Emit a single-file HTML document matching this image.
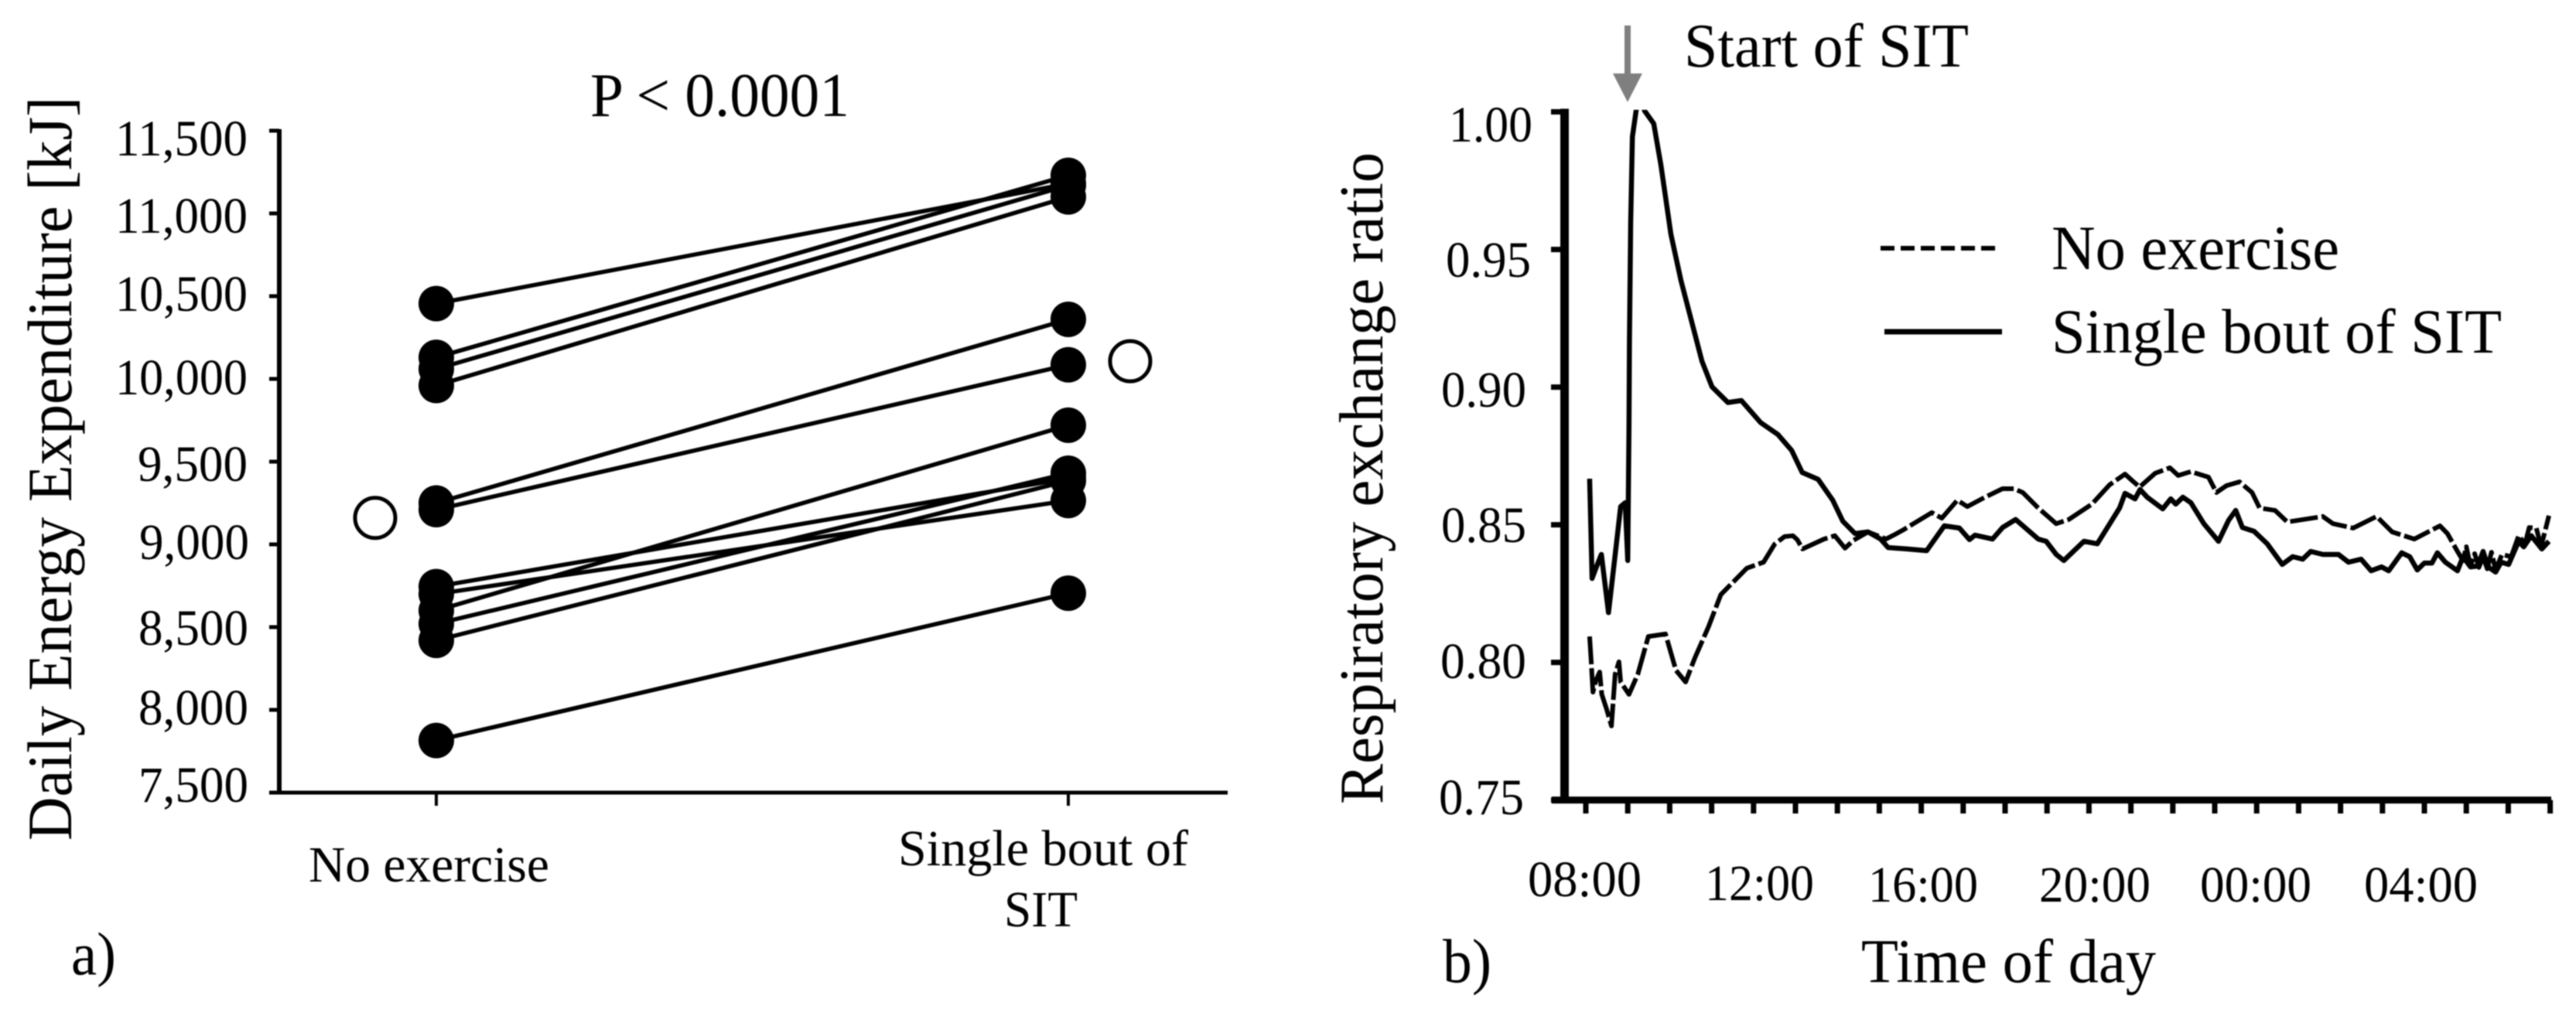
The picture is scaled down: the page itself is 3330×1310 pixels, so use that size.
<!DOCTYPE html>
<html lang="en">
<head>
<meta charset="utf-8">
<title>Daily energy expenditure and respiratory exchange ratio</title>
<style>
html,body{margin:0;padding:0;background:#fff;}
svg{display:block;filter:blur(0.7px);}
text{font-family:"Liberation Serif","Times New Roman",serif;fill:#000;}
</style>
</head>
<body>
<svg id="figure" xmlns="http://www.w3.org/2000/svg" width="3330" height="1310" viewBox="0 0 3330 1310">
<defs>
<clipPath id="rer-clip"><rect x="2030" y="142" width="1300" height="890"/></clipPath>
</defs>
<rect x="0" y="0" width="3330" height="1310" fill="#fff"/>

<g id="panel-a">
<text x="763" y="150" font-size="80" textLength="335" lengthAdjust="spacingAndGlyphs">P &lt; 0.0001</text>
<text transform="translate(92,1087) rotate(-90)" font-size="82" textLength="962" lengthAdjust="spacingAndGlyphs">Daily Energy Expenditure [kJ]</text>
<g font-size="66">
<text x="149" y="201" textLength="171" lengthAdjust="spacingAndGlyphs">11,500</text>
<text x="149" y="301" textLength="171" lengthAdjust="spacingAndGlyphs">11,000</text>
<text x="149" y="402" textLength="171" lengthAdjust="spacingAndGlyphs">10,500</text>
<text x="149" y="510" textLength="171" lengthAdjust="spacingAndGlyphs">10,000</text>
<text x="178" y="622" textLength="142" lengthAdjust="spacingAndGlyphs">9,500</text>
<text x="180" y="723" textLength="142" lengthAdjust="spacingAndGlyphs">9,000</text>
<text x="179" y="834" textLength="142" lengthAdjust="spacingAndGlyphs">8,500</text>
<text x="179" y="937" textLength="142" lengthAdjust="spacingAndGlyphs">8,000</text>
<text x="179" y="1037" textLength="142" lengthAdjust="spacingAndGlyphs">7,500</text>
</g>
<text x="399" y="1140" font-size="66" textLength="311" lengthAdjust="spacingAndGlyphs">No exercise</text>
<text x="1161" y="1119" font-size="66" textLength="375" lengthAdjust="spacingAndGlyphs">Single bout of</text>
<text x="1298" y="1198" font-size="66" textLength="95" lengthAdjust="spacingAndGlyphs">SIT</text>
<text x="92" y="1260" font-size="78" textLength="58" lengthAdjust="spacingAndGlyphs">a)</text>
</g>

<g id="panel-b">
<text transform="translate(1787,1040) rotate(-90)" font-size="80" textLength="843" lengthAdjust="spacingAndGlyphs">Respiratory exchange ratio</text>
<g font-size="66">
<text x="1873" y="183" textLength="108" lengthAdjust="spacingAndGlyphs">1.00</text>
<text x="1869" y="358" textLength="110" lengthAdjust="spacingAndGlyphs">0.95</text>
<text x="1863" y="526" textLength="110" lengthAdjust="spacingAndGlyphs">0.90</text>
<text x="1863" y="701" textLength="110" lengthAdjust="spacingAndGlyphs">0.85</text>
<text x="1862" y="877" textLength="111" lengthAdjust="spacingAndGlyphs">0.80</text>
<text x="1860" y="1053" textLength="110" lengthAdjust="spacingAndGlyphs">0.75</text>
</g>
<g font-size="66">
<text x="1975" y="1159" textLength="147" lengthAdjust="spacingAndGlyphs">08:00</text>
<text x="2204" y="1164" textLength="141" lengthAdjust="spacingAndGlyphs">12:00</text>
<text x="2415" y="1166" textLength="142" lengthAdjust="spacingAndGlyphs">16:00</text>
<text x="2636" y="1166" textLength="144" lengthAdjust="spacingAndGlyphs">20:00</text>
<text x="2844" y="1166" textLength="144" lengthAdjust="spacingAndGlyphs">00:00</text>
<text x="3056" y="1166" textLength="147" lengthAdjust="spacingAndGlyphs">04:00</text>
</g>
<text x="2406" y="1270" font-size="80" textLength="381" lengthAdjust="spacingAndGlyphs">Time of day</text>
<text x="1865" y="1270" font-size="80" textLength="63" lengthAdjust="spacingAndGlyphs">b)</text>
<text x="2177" y="86" font-size="80" textLength="368" lengthAdjust="spacingAndGlyphs">Start of SIT</text>
<line x1="2104" y1="33" x2="2104" y2="100" stroke="#7f7f7f" stroke-width="8"/>
<polygon points="2085,95 2123,95 2104,132" fill="#7f7f7f"/>
<line x1="2431" y1="321" x2="2586" y2="321" stroke="#000" stroke-width="6" stroke-dasharray="18 8"/>
<text x="2652" y="348" font-size="82" textLength="372" lengthAdjust="spacingAndGlyphs">No exercise</text>
<line x1="2436" y1="429" x2="2588" y2="429" stroke="#000" stroke-width="7"/>
<text x="2652" y="456" font-size="82" textLength="582" lengthAdjust="spacingAndGlyphs">Single bout of SIT</text>
</g>

<script>
// ---------- Panel a data ----------
var energyTicks = [7500, 8000, 8500, 9000, 9500, 10000, 10500, 11000, 11500];
var noExerciseEnergy = [10455, 10130, 10060, 9960, 9250, 9210, 8745, 8700, 8600, 8520, 8420, 7815];
var singleBoutEnergy = [11180, 11230, 11170, 11100, 10360, 10085, 9400, 9265, 9720, 9430, 9385, 8705];
var meanNoExercise = [9160];
var meanSingleBout = [10107];

// ---------- Panel b data ----------
var rerTicks = [0.75, 0.80, 0.85, 0.90, 0.95, 1.00];
var hourTicks = [0,1,2,3,4,5,6,7,8,9,10,11,12,13,14,15,16,17,18,19,20,21,22,23];
var sitHours = [0.09,0.15,0.26,0.37,0.54,0.69,0.83,0.94,1.00,1.03,1.04,1.07,1.11,1.20,1.30,1.40,1.62,1.79,2.03,2.27,2.64,2.77,3.01,3.39,3.71,4.17,4.58,4.91,5.16,5.54,5.89,6.13,6.42,6.73,7.03,7.21,7.66,8.13,8.55,8.91,9.15,9.28,9.70,9.94,10.25,10.79,10.98,11.22,11.40,11.88,12.20,12.73,12.86,13.10,13.22,13.39,13.76,13.95,14.07,14.24,14.43,14.74,15.09,15.33,15.50,15.66,15.94,16.25,16.61,16.86,17.10,17.29,17.58,17.95,18.19,18.49,18.73,18.98,19.15,19.46,19.65,19.83,20.00,20.18,20.31,20.50,20.79,20.92,21.10,21.27,21.40,21.52,21.70,21.83,22.01,22.25,22.37,22.55,22.80,22.97];
var sitRer = [0.8667,0.8305,0.8350,0.8392,0.8181,0.8378,0.8566,0.8580,0.8370,0.8856,0.9170,0.9600,0.9909,1.0004,1.0080,1.0004,0.9957,0.9808,0.9555,0.9387,0.9170,0.9094,0.9001,0.8944,0.8951,0.8871,0.8828,0.8770,0.8690,0.8665,0.8589,0.8513,0.8468,0.8474,0.8448,0.8417,0.8412,0.8406,0.8496,0.8488,0.8446,0.8462,0.8448,0.8490,0.8519,0.8448,0.8440,0.8392,0.8370,0.8440,0.8431,0.8561,0.8614,0.8594,0.8628,0.8600,0.8558,0.8594,0.8575,0.8600,0.8580,0.8504,0.8440,0.8516,0.8552,0.8490,0.8476,0.8431,0.8356,0.8384,0.8375,0.8403,0.8392,0.8392,0.8364,0.8375,0.8333,0.8347,0.8333,0.8398,0.8384,0.8336,0.8361,0.8361,0.8398,0.8364,0.8333,0.8384,0.8347,0.8350,0.8403,0.8347,0.8328,0.8364,0.8356,0.8440,0.8420,0.8460,0.8412,0.8440];
var noExerciseHours = [0.09,0.13,0.17,0.24,0.33,0.38,0.50,0.61,0.70,0.79,0.83,1.03,1.24,1.49,1.90,2.15,2.38,2.60,2.93,3.22,3.51,3.84,4.24,4.50,4.74,4.94,5.04,5.17,5.41,5.68,5.94,6.18,6.38,6.73,7.16,7.34,7.58,8.25,8.49,8.86,9.10,9.52,9.94,10.21,10.42,10.79,11.22,11.52,12.07,12.49,12.86,13.04,13.21,13.58,13.93,14.13,14.43,14.85,15.04,15.28,15.59,15.89,16.07,16.44,16.73,17.58,17.82,18.30,18.86,19.23,19.76,20.37,20.55,20.79,20.92,21.00,21.10,21.20,21.30,21.40,21.50,21.60,21.70,21.85,22.07,22.25,22.40,22.50,22.67,22.75,22.80,22.97];
var noExerciseRer = [0.8094,0.8002,0.7892,0.7934,0.7965,0.7884,0.7828,0.7769,0.7957,0.8002,0.7929,0.7884,0.7957,0.8094,0.8103,0.7971,0.7929,0.8016,0.8131,0.8246,0.8291,0.8342,0.8364,0.8429,0.8457,0.8460,0.8446,0.8412,0.8429,0.8448,0.8460,0.8415,0.8443,0.8474,0.8448,0.8462,0.8482,0.8544,0.8524,0.8589,0.8566,0.8600,0.8631,0.8631,0.8617,0.8561,0.8504,0.8519,0.8575,0.8645,0.8684,0.8659,0.8637,0.8687,0.8707,0.8679,0.8693,0.8673,0.8617,0.8642,0.8656,0.8617,0.8561,0.8552,0.8510,0.8530,0.8504,0.8488,0.8530,0.8474,0.8448,0.8496,0.8468,0.8403,0.8370,0.8420,0.8350,0.8395,0.8345,0.8384,0.8340,0.8400,0.8336,0.8392,0.8384,0.8460,0.8430,0.8490,0.8488,0.8440,0.8431,0.8533];

// ---------- Axis functions ----------
function energyY(v){ return 1025 - (v - 7500) * 0.214; }
var noExerciseX = 564;
var singleBoutX = 1381;
function rerY(v){ return 1034.6 - (v - 0.75) * 3560; }
function hourX(h){ return 2050 + h * 54.2; }

var NS = 'http://www.w3.org/2000/svg';
function shape(parent, tag, attrs){
  var el = document.createElementNS(NS, tag);
  for (var k in attrs){ el.setAttribute(k, attrs[k]); }
  parent.appendChild(el);
  return el;
}
var panelA = document.getElementById('panel-a');
var panelB = document.getElementById('panel-b');

// ---------- Panel a axes ----------
var yAxisA = shape(panelA, 'line', {x1:361, y1:energyY(11500)-2, x2:361, y2:energyY(7500)+2, stroke:'#000', 'stroke-width':6});


var xAxisA = shape(panelA, 'line', {x1:348, y1:1025, x2:1587, y2:1025, stroke:'#000', 'stroke-width':5});


energyTicks.forEach(function(t){
  var tick = shape(panelA, 'line', {x1:348, y1:energyY(t), x2:361, y2:energyY(t), stroke:'#000', 'stroke-width':5});
  
  
});
[noExerciseX, singleBoutX].forEach(function(x){
  var tick = shape(panelA, 'line', {x1:x, y1:1025, x2:x, y2:1042, stroke:'#000', 'stroke-width':4});
  
  
});

// ---------- Panel a marks ----------
noExerciseEnergy.forEach(function(v, i){
  var link = shape(panelA, 'line', {x1:noExerciseX, y1:energyY(v), x2:singleBoutX, y2:energyY(singleBoutEnergy[i]), stroke:'#000', 'stroke-width':5.5});
  
  
});
noExerciseEnergy.forEach(function(v){
  var dot = shape(panelA, 'circle', {cx:noExerciseX, cy:energyY(v), r:23, fill:'#000'});
  
  
});
singleBoutEnergy.forEach(function(v){
  var dot = shape(panelA, 'circle', {cx:singleBoutX, cy:energyY(v), r:23, fill:'#000'});
  
  
});
meanNoExercise.forEach(function(v){
  var dot = shape(panelA, 'circle', {cx:noExerciseX - 79, cy:energyY(v), r:26, fill:'#fff', stroke:'#000', 'stroke-width':5});
  
  
});
meanSingleBout.forEach(function(v){
  var dot = shape(panelA, 'circle', {cx:singleBoutX + 80, cy:energyY(v), r:26, fill:'#fff', stroke:'#000', 'stroke-width':5});
  
  
});

// ---------- Panel b axes ----------
var yAxisB = shape(panelB, 'line', {x1:2022.5, y1:rerY(1.0)-4, x2:2022.5, y2:rerY(0.75)+4, stroke:'#000', 'stroke-width':11});


var xAxisB = shape(panelB, 'line', {x1:2006, y1:rerY(0.75), x2:3298, y2:rerY(0.75), stroke:'#000', 'stroke-width':9});


rerTicks.forEach(function(t){
  var tick = shape(panelB, 'line', {x1:2005, y1:rerY(t), x2:2022, y2:rerY(t), stroke:'#000', 'stroke-width':7});
  
  
});
hourTicks.forEach(function(h){
  var tick = shape(panelB, 'line', {x1:hourX(h), y1:rerY(0.75), x2:hourX(h), y2:1052, stroke:'#000', 'stroke-width':7});
  
  
});

// ---------- Panel b series ----------
function linePoints(hours, values){
  return hours.map(function(h, i){ return hourX(h).toFixed(1) + ',' + rerY(values[i]).toFixed(1); }).join(' ');
}
var noExerciseLine = shape(panelB, 'polyline', {points:linePoints(noExerciseHours, noExerciseRer), fill:'none', stroke:'#000', 'stroke-width':6, 'stroke-dasharray':'36 5', 'clip-path':'url(#rer-clip)', 'stroke-linejoin':'round'});


var sitLine = shape(panelB, 'polyline', {points:linePoints(sitHours, sitRer), fill:'none', stroke:'#000', 'stroke-width':6.5, 'clip-path':'url(#rer-clip)', 'stroke-linejoin':'round'});


</script>
</svg>
</body>
</html>
